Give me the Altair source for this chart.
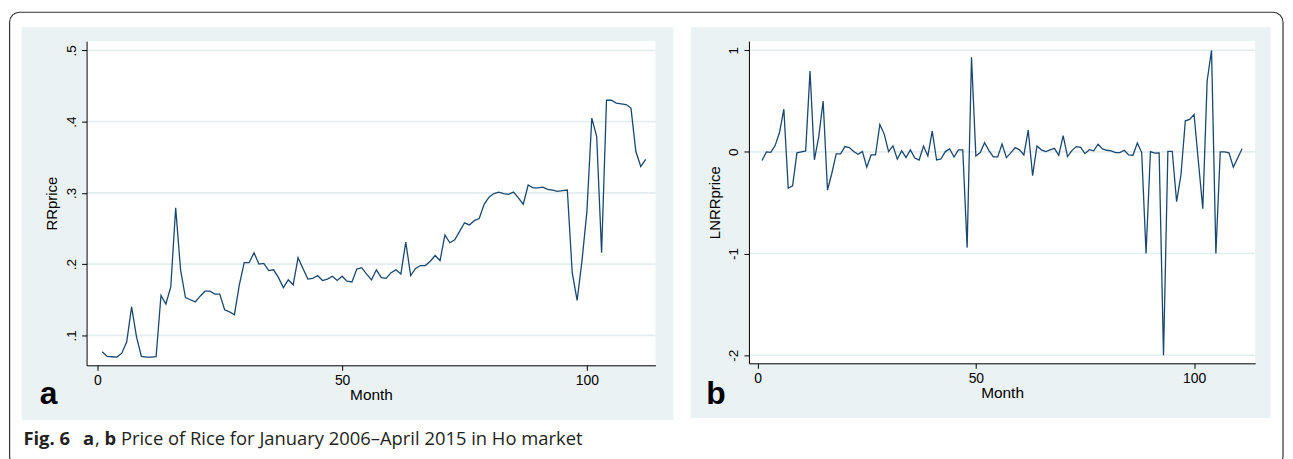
import altair as alt
import pandas as pd

# ---------------- data ----------------
months_a = list(range(1, 113))
rrprice = [
    0.077, 0.0705, 0.070, 0.0695, 0.075, 0.091, 0.140, 0.098, 0.0705, 0.0695,
    0.0695, 0.070, 0.156, 0.144, 0.168, 0.279, 0.192, 0.153, 0.150, 0.147,
    0.155, 0.162, 0.162, 0.158, 0.158, 0.136, 0.133, 0.129, 0.171, 0.202,
    0.202, 0.216, 0.200, 0.201, 0.191, 0.192, 0.181, 0.167, 0.178, 0.171,
    0.209, 0.194, 0.179, 0.180, 0.184, 0.177, 0.179, 0.183, 0.177, 0.183,
    0.176, 0.175, 0.193, 0.195, 0.186, 0.178, 0.192, 0.181, 0.180, 0.188,
    0.192, 0.186, 0.231, 0.184, 0.194, 0.198, 0.198, 0.204, 0.212, 0.205,
    0.241, 0.230, 0.234, 0.246, 0.258, 0.255, 0.261, 0.264, 0.284, 0.294,
    0.299, 0.301, 0.299, 0.298, 0.301, 0.293, 0.284, 0.311, 0.307, 0.307,
    0.308, 0.305, 0.304, 0.302, 0.303, 0.304, 0.188, 0.149, 0.205, 0.274,
    0.405, 0.379, 0.216, 0.430, 0.430, 0.426, 0.425, 0.424, 0.419, 0.358,
    0.337, 0.347,
]
months_b = list(range(1, 112))
lnrrprice = [
    -0.085, 0.0, -0.005, 0.062, 0.19, 0.42, -0.358, -0.333, -0.01, 0.0,
    0.01, 0.795, -0.078, 0.15, 0.50, -0.375, -0.21, -0.02, -0.02, 0.052,
    0.042, 0.003, -0.023, 0.003, -0.15, -0.03, -0.03, 0.27, 0.175, 0.003,
    0.06, -0.072, 0.01, -0.055, 0.02, -0.06, -0.08, 0.058, -0.04, 0.205,
    -0.08, -0.07, 0.003, 0.03, -0.05, 0.02, 0.02, -0.942, 0.93, -0.04,
    -0.007, 0.09, 0.013, -0.05, -0.05, 0.078, -0.056, -0.01, 0.042, 0.02,
    -0.03, 0.215, -0.235, 0.058, 0.02, 0.003, 0.02, 0.035, -0.033, 0.16,
    -0.046, 0.013, 0.052, 0.045, -0.017, 0.022, 0.01, 0.075, 0.03, 0.016,
    0.01, -0.007, -0.007, 0.016, -0.03, -0.033, 0.088, -0.007, -1.0, 0.003,
    -0.013, -0.01, -2.0, 0.006, 0.006, -0.49, -0.225, 0.306, 0.32, 0.368,
    -0.1, -0.56, 0.70, 1.0, -1.0, 0.0, 0.0, -0.01, -0.15, -0.06,
    0.03,
]
xticks = [0, 50, 100]
yticks_a = [0.1, 0.2, 0.3, 0.4, 0.5]
yticks_b = [1, 0, -1, -2]
caption_parts = ["Fig. 6", "a", ",", "b", "Price of Rice for January 2006\u2013April 2015 in Ho market"]

# ---------------- style ----------------
NAVY = "#1a476f"
BG = "#eaf2f3"
GRID = "#e4edef"
FONT = "Liberation Sans"
CAP_FONT = "Open Sans"
CAP_COLOR = "#231f20"
WA, HA = 572, 326
WB, HB = 509, 324

one = pd.DataFrame({"k": [0]})


def box(x, x2, y, y2, **kw):
    return alt.Chart(one).mark_rect(**kw).encode(
        x=alt.value(x), x2=alt.value(x2), y=alt.value(y), y2=alt.value(y2)
    )


def label(text, x, y, **kw):
    return alt.Chart(one).mark_text(text=text, align="left", baseline="alphabetic", **kw).encode(
        x=alt.value(x), y=alt.value(y)
    )


def xaxis():
    return alt.Axis(
        values=xticks, title="Month", grid=False, tickSize=5, tickColor="black",
        domainColor="black", labelFont=FONT, labelFontSize=14, labelColor="black",
        labelPadding=3, titleFont=FONT, titleFontSize=15.5, titleFontWeight="normal",
        titleColor="black", titlePadding=0, zindex=1, labelFlush=False, labelOverlap=False,
    )


def yaxis(values, title, expr):
    return alt.Axis(
        values=values, title=title, grid=False, tickSize=5, tickColor="black",
        domainColor="black", labelFont=FONT, labelFontSize=13.5, labelColor="black",
        labelAngle=270, labelAlign="center", labelBaseline="bottom", labelPadding=3,
        labelExpr=expr, titleFont=FONT, titleFontSize=15, titleFontWeight="normal",
        titleColor="black", titlePadding=5, zindex=1, labelFlush=False, labelOverlap=False,
    )


def panel(months, values, field, yticks, ydomain, xdomain, w, h, expr, bg, letter, lx):
    df = pd.DataFrame({"Month": months, field: values})
    gdf = pd.DataFrame({field: yticks})
    xs = alt.Scale(domain=xdomain, nice=False, zero=False)
    ys = alt.Scale(domain=ydomain, nice=False, zero=False)
    background = box(bg[0], bg[1], bg[2], bg[3], fill=BG, stroke="transparent")
    plotbg = box(0, w, 0, h, fill="white", stroke="transparent")
    grid = alt.Chart(gdf).mark_rule(color=GRID, strokeWidth=1.6).encode(
        y=alt.Y(f"{field}:Q", scale=ys, title=field)
    )
    line = alt.Chart(df).mark_line(color=NAVY, strokeWidth=1.3).encode(
        x=alt.X("Month:Q", scale=xs, axis=xaxis()),
        y=alt.Y(f"{field}:Q", scale=ys, axis=yaxis(yticks, field, expr)),
    )
    let = label(letter, lx, 365, font=FONT, fontSize=32, fontWeight="bold", color="black")
    return [background, plotbg, grid, line, let]


layers_a = panel(
    months_a, rrprice, "RRprice", yticks_a, [0.058, 0.513], [-2.2, 114], WA, HA,
    "slice(format(datum.value, '.1f'), 1)", (-65.3, 590, -14, 381), "a", -47,
)
layers_b = panel(
    months_b, lnrrprice, "LNRRprice", yticks_b, [-2.08, 1.09], [-2.0, 114], WB, HB,
    "datum.value + ''", (-58.5, 524.5, -14, 379), "b", -43,
)

# caption + outer frame (decoration, attached to panel a)
cap_y = 406
cap = [
    label(caption_parts[0], -63.5, cap_y, font=CAP_FONT, fontSize=18.5, fontWeight="bold", color=CAP_COLOR),
    label(caption_parts[1], -3.5, cap_y, font=CAP_FONT, fontSize=18.5, fontWeight="bold", color=CAP_COLOR),
    label(caption_parts[2], 8.5, cap_y, font=CAP_FONT, fontSize=18.5, color=CAP_COLOR),
    label(caption_parts[3], 18, cap_y, font=CAP_FONT, fontSize=18.5, fontWeight="bold", color=CAP_COLOR),
    label(caption_parts[4], 34.5, cap_y, font=CAP_FONT, fontSize=18.5, color=CAP_COLOR),
]
frame = box(-77.4, 1203, -29, 428, fill="transparent", stroke="#333333", strokeWidth=1.2, cornerRadius=10)

panel_a = alt.layer(*layers_a, *cap, frame).properties(width=WA, height=HA)
panel_b = alt.layer(*layers_b).properties(width=WB, height=HB)

chart = (
    alt.hconcat(panel_a, panel_b, spacing=94, bounds="flush")
    .properties(padding={"left": 0, "top": 1, "right": 0, "bottom": 0}, background="white")
    .configure_view(stroke="transparent")
)

chart.save("out.html", embed_options={"renderer": "svg", "actions": False})
